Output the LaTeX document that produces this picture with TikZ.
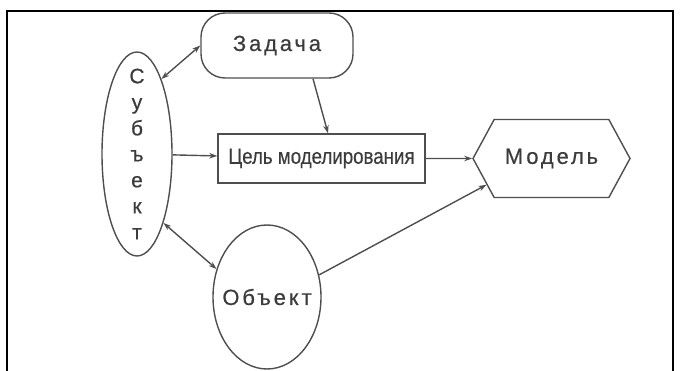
\documentclass[tikz,border=0pt]{standalone}
\usepackage{fontspec}
\setmainfont{Liberation Sans}
\newfontfamily\spacedfont[LetterSpace=13, FakeBold=0.5]{Liberation Sans}
\newfontfamily\narrowfont[FakeStretch=0.85, FakeBold=0.5]{Liberation Sans}
\newfontfamily\plainfont[FakeBold=0.5]{Liberation Sans}
\usepackage{tikz}
\usetikzlibrary{arrows.meta, positioning, shapes.geometric, shapes.symbols}

\definecolor{inkgray}{HTML}{4E4E4E}
\definecolor{textgray}{HTML}{3C3C3C}

\tikzset{
  stage/.style={draw, rounded corners=24pt, minimum width=152pt, minimum height=65pt, inner sep=0pt},
  goal/.style={draw, minimum width=207pt, minimum height=49pt, inner sep=0pt},
  actor/.style={draw, ellipse, inner sep=0pt},
  result/.style={draw, signal, signal to=west and east, signal pointer angle=123,
    minimum width=157pt, minimum height=78pt, inner sep=0pt},
  caption/.style={text=textgray, font=\spacedfont\fontsize{22pt}{26pt}\selectfont}
}

\begin{document}
\begin{tikzpicture}[x=1pt,y=-1pt,>={Stealth[length=8pt,width=5.5pt]},color=inkgray,line width=1.4pt,node distance=230pt]
  \useasboundingbox (0,0) rectangle (685,371);

  \node[actor, minimum width=70pt, minimum height=204pt,
    label={[name=subjtext, align=center, text=textgray, font=\plainfont\fontsize{21pt}{26pt}\selectfont]center:С\\у\\б\\ъ\\е\\к\\т}] (subj) at (137,154) {};
  \node[stage, caption] (task) at (277,45.5) {Задача};
  \node[goal, text=textgray, font=\narrowfont\fontsize{22pt}{26pt}\selectfont] (goal) at (321.5,158.5) {Цель моделирования};
  \node[result, caption] (model) [right of=goal] {Модель};
  \node[actor, minimum width=108pt, minimum height=144pt,
    label={[name=objtext, caption]center:Объект}] (obj) at (267,297) {};

  \path[->]
  (subj.72) edge [<->] (task.west)
  ([xshift=36pt]task.south) edge ([xshift=6.5pt]goal.north)
  (subj) edge (goal)
  (goal) edge (model)
  (subj.-69) edge [<->] (obj.151)
  (obj.23) edge (model.202)
  ;

  % frame
  \draw[black, line width=2pt] (7,371) -- (7,11) -- (673,11) -- (673,371);
\end{tikzpicture}
\end{document}
